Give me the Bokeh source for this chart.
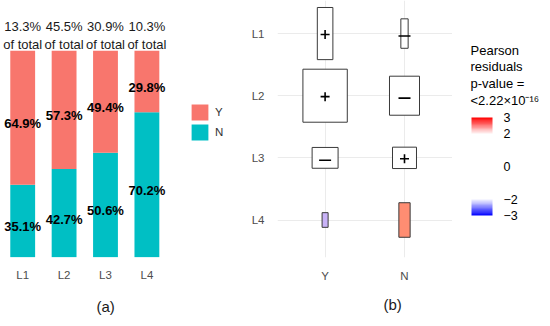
from bokeh.plotting import figure
from bokeh.models import (ColumnDataSource, FixedTicker, Legend, LegendItem, Title,
                          LinearColorMapper, ColorBar, Range1d, Label, AllLabels)
from bokeh.layouts import row
from bokeh.embed import file_html
from bokeh.resources import INLINE
from bokeh.core.properties import value

# ---------------- data ----------------
levels = ["L1", "L2", "L3", "L4"]
share_of_total = [13.3, 45.5, 30.9, 10.3]      # % of total per level
pct_N = [35.1, 42.7, 50.6, 70.2]               # % N within level
pct_Y = [64.9, 57.3, 49.4, 29.8]               # % Y within level

groups = ["Y", "N"]
# tile plot (b): relative tile width / height per cell (fraction of cell)
tile_w_Y = [0.196, 0.559, 0.327, 0.076]
tile_h_Y = [0.839, 0.853, 0.335, 0.236]
tile_w_N = [0.092, 0.378, 0.302, 0.142]
tile_h_N = [0.474, 0.628, 0.344, 0.556]
sign_Y = ["+", "+", "-", ""]
sign_N = ["-", "-", "+", ""]
legend_ticks = [3, 2, 0, -2, -3]
legend_title = "Pearson\nresiduals\np-value =\n<2.22\u00d710\u207b\u00b9\u2076"

# ---------------- styles ----------------
FONT = "Liberation Sans"
COL_Y = "#F8766D"
COL_N = "#00BFC4"
fill_Y = ["white", "white", "white", "#C8B2F7"]
fill_N = ["white", "white", "white", "#FF8D72"]
AXIS_TXT = "#4d4d4d"
H = 326
FRAME_BOTTOM = 268          # all frames share top 0 / bottom 268 in the row
MB = H - FRAME_BOTTOM

# ---------------- (a) stacked bars ----------------
xs = [i + 1 for i in range(len(levels))]
src_a = ColumnDataSource(dict(x=xs, N=[v / 100 for v in pct_N], Y=[v / 100 for v in pct_Y]))

pa = figure(width=240, height=H, x_range=Range1d(0.4638, 6.261),
            y_range=Range1d(-0.0014, 1.2428), toolbar_location=None,
            output_backend="svg", y_axis_location=None,
            min_border_left=0, min_border_right=0, min_border_top=0, min_border_bottom=MB)
pa.outline_line_color = None
pa.xgrid.visible = False
pa.ygrid.visible = False
rs = pa.vbar_stack(["N", "Y"], x="x", width=0.6, source=src_a,
                   color=[COL_N, COL_Y], line_color=None)
rN, rY = rs

# labels inside bars
lab_x, lab_y, lab_t = [], [], []
for i, x in enumerate(xs):
    n, y = pct_N[i] / 100, pct_Y[i] / 100
    lab_x += [x, x]
    lab_y += [n / 2, n + y / 2]
    lab_t += [f"{pct_N[i]:.1f}%", f"{pct_Y[i]:.1f}%"]
pa.text(x=lab_x, y=lab_y, text=lab_t, text_align="center", text_baseline="alphabetic",
        text_font=value(FONT), text_font_size="13px", text_font_style="bold",
        text_color="#000000", y_offset=6)
# share of total above bars
pa.text(x=xs, y=[1.0] * 4, text=[f"{s:.1f}%" for s in share_of_total],
        text_align="center", text_baseline="alphabetic", text_font=value(FONT),
        text_font_size="13px", text_color="#1a1a1a", y_offset=-24)
pa.text(x=xs, y=[1.0] * 4, text=["of total"] * 4,
        text_align="center", text_baseline="alphabetic", text_font=value(FONT),
        text_font_size="13px", text_color="#1a1a1a", y_offset=-6)

pa.xaxis.ticker = FixedTicker(ticks=xs)
pa.xaxis.major_label_overrides = {x: l for x, l in zip(xs, levels)}
pa.xaxis.axis_line_color = None
pa.xaxis.major_tick_line_color = None
pa.xaxis.minor_tick_line_color = None
pa.xaxis.major_label_standoff = 5
pa.xaxis.major_label_text_font = FONT
pa.xaxis.major_label_text_font_size = "11.5px"
pa.xaxis.major_label_text_color = AXIS_TXT

leg = Legend(items=[LegendItem(label="Y", renderers=[rY]),
                    LegendItem(label="N", renderers=[rN])],
             location=(189, 115), padding=0, margin=0, spacing=0,
             glyph_width=21, glyph_height=20, label_height=20, label_standoff=5,
             label_text_font=FONT, label_text_font_size="11.5px",
             label_text_color="#333333", border_line_color=None,
             background_fill_alpha=0)
pa.add_layout(leg)
pa.add_layout(Title(text="(a)", align="left", offset=96, standoff=24, text_font=FONT,
                    text_font_size="15px", text_font_style="normal",
                    text_color="#1a1a1a"), "below")

# ---------------- (b) tile plot ----------------
rows_y = {lvl: len(levels) - i for i, lvl in enumerate(levels)}  # L1 at top
cx, cy, cw, ch, cf = [], [], [], [], []
for j, (ws, hs, fs) in enumerate([(tile_w_Y, tile_h_Y, fill_Y), (tile_w_N, tile_h_N, fill_N)]):
    for i, lvl in enumerate(levels):
        cx.append(j + 1)
        cy.append(rows_y[lvl])
        cw.append(ws[i])
        ch.append(hs[i])
        cf.append(fs[i])
src_b = ColumnDataSource(dict(x=cx, y=cy, w=cw, h=ch, fill=cf))

pb = figure(width=212, height=H, x_range=Range1d(0.4005, 2.6045),
            y_range=Range1d(0.3966, 4.532), toolbar_location=None,
            output_backend="svg", min_border_left=37, min_border_right=0,
            min_border_top=0, min_border_bottom=MB)
pb.outline_line_color = None
pb.rect(x="x", y="y", width="w", height="h", source=src_b, fill_color="fill",
        line_color="#3a3a3a", line_width=1)

plus_x, plus_y, minus_x, minus_y = [], [], [], []
for j, signs in enumerate([sign_Y, sign_N]):
    for i, lvl in enumerate(levels):
        if signs[i] == "+":
            plus_x.append(j + 1); plus_y.append(rows_y[lvl] - 1.0 / 64.8)
        elif signs[i] == "-":
            minus_x.append(j + 1); minus_y.append(rows_y[lvl] - 2.5 / 64.8)
pb.scatter(plus_x, plus_y, marker="cross", size=9, line_color="#000000", line_width=1.6)
pb.scatter(minus_x, minus_y, marker="dash", size=12, line_color="#000000", line_width=1.6)

for ax in (pb.xaxis, pb.yaxis):
    ax.axis_line_color = None
    ax.major_tick_line_color = None
    ax.minor_tick_line_color = None
    ax.major_label_text_font = FONT
    ax.major_label_text_font_size = "11.5px"
    ax.major_label_text_color = AXIS_TXT
pb.xaxis.ticker = FixedTicker(ticks=[1, 2])
pb.xaxis.major_label_overrides = {1: groups[0], 2: groups[1]}
pb.xaxis.major_label_standoff = 6
pb.yaxis.ticker = FixedTicker(ticks=[rows_y[l] for l in levels])
pb.yaxis.major_label_overrides = {rows_y[l]: l for l in levels}
pb.yaxis.major_label_standoff = 7
pb.xgrid.grid_line_color = "#EBEBEB"
pb.ygrid.grid_line_color = "#EBEBEB"
pb.add_layout(Title(text="(b)", align="left", offset=106, standoff=19, text_font=FONT,
                    text_font_size="15px", text_font_style="normal",
                    text_color="#1a1a1a"), "below")

# ---------------- residual legend ----------------
def lerp(c1, c2, t):
    return "#%02x%02x%02x" % tuple(int(round(a + (b - a) * t)) for a, b in zip(c1, c2))

WHITE, RED, BLUE = (255, 255, 255), (255, 0, 0), (0, 0, 255)
pal = []
NPAL = 120
for k in range(NPAL):
    v = -3 + 6 * (k + 0.5) / NPAL
    if v >= 2:
        pal.append(lerp(WHITE, RED, min(1, v - 2)))
    elif v <= -2:
        pal.append(lerp(WHITE, BLUE, min(1, -2 - v)))
    else:
        pal.append("#ffffff")
mapper = LinearColorMapper(palette=pal, low=-3, high=3)

pc = figure(width=98, height=H, toolbar_location=None, output_backend="svg",
            x_axis_location=None, y_axis_location=None, min_border_left=0,
            min_border_right=0, min_border_top=0, min_border_bottom=MB,
            x_range=Range1d(0, 1), y_range=Range1d(0, 1))
pc.outline_line_color = None
pc.xgrid.visible = False
pc.ygrid.visible = False
cb = ColorBar(color_mapper=mapper, orientation="vertical",
              ticker=FixedTicker(ticks=legend_ticks),
              major_label_overrides={t: (str(t) if t >= 0 else "\u2212" + str(-t)) for t in legend_ticks},
              major_label_policy=AllLabels(),
              width=21, height=98, padding=0, margin=0, label_standoff=11,
              major_label_text_font=FONT, major_label_text_font_size="12.5px",
              major_label_text_color="#000000",
              major_tick_line_color=None, minor_tick_line_color=None,
              bar_line_color=None, border_line_color=None,
              background_fill_alpha=0, location=(19, FRAME_BOTTOM - 226))
pc.add_layout(cb)
pc.add_layout(Label(x=18, y=FRAME_BOTTOM - 53, x_units="screen", y_units="screen",
                    text=legend_title, text_align="left", text_baseline="top",
                    text_font=FONT, text_font_size="13px", text_color="#000000",
                    text_line_height=1.12))

layout = row(pa, pb, pc)
open("out.html", "w").write(file_html(layout, INLINE))
